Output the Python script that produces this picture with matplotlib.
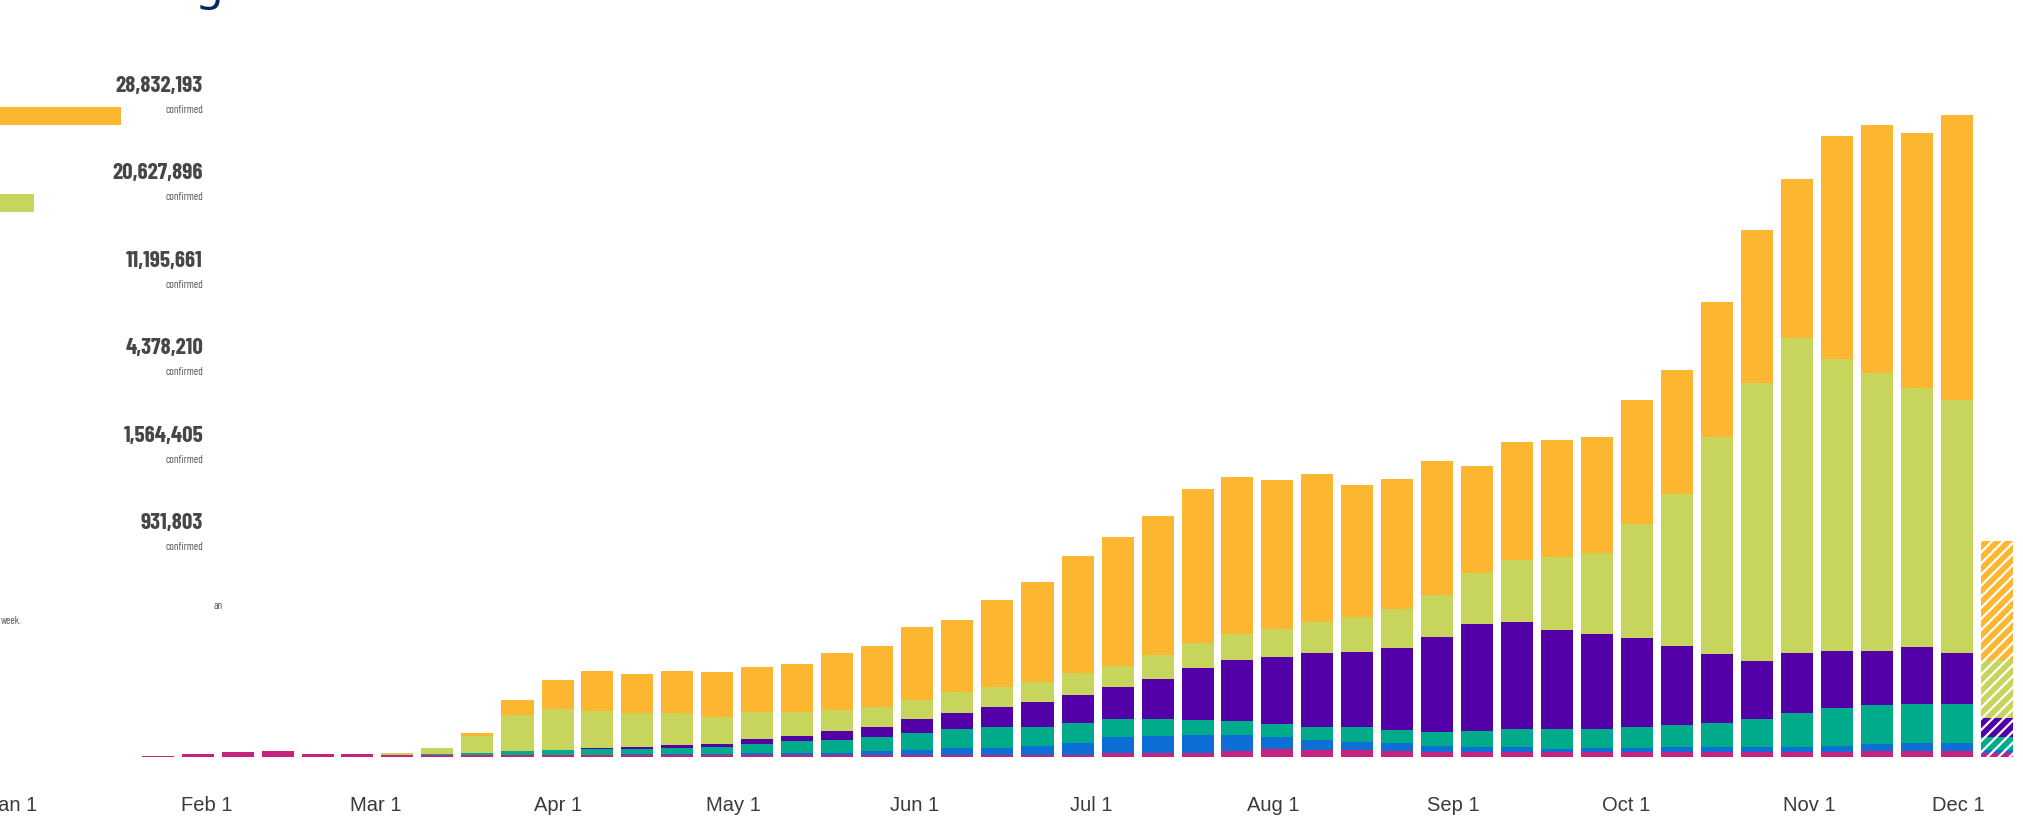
import os
import matplotlib
matplotlib.use("Agg")
import matplotlib.pyplot as plt
from matplotlib import font_manager as fm
from matplotlib.textpath import TextPath
import numpy as np

# ---------------- data (weekly confirmed cases, thousands) ----------------
week_index = np.arange(47)
western_pacific = [6, 15, 28, 36, 17, 15, 8, 8, 9, 9, 9, 9, 9, 9, 9, 9, 9, 9, 9, 9, 9, 9,
                   11, 11, 22, 22, 26, 36, 47, 43, 43, 38, 32, 32, 32, 28, 28, 28, 28, 28, 28,
                   32, 32, 38, 38, 38, 22]
africa = [0, 0, 0, 0, 0, 0, 0, 2, 3, 5, 5, 5, 6, 8, 10, 15, 13, 17, 28, 34, 45, 49,
          60, 75, 102, 113, 113, 102, 81, 64, 53, 47, 38, 32, 32, 19, 26, 29, 36, 36, 36,
          32, 38, 43, 51, 51, 21]
eastern_med = [0, 0, 0, 0, 0, 0, 3, 10, 10, 22, 29, 33, 36, 37, 42, 56, 79, 81, 88, 111, 124, 134,
               122, 132, 117, 107, 96, 90, 79, 85, 96, 85, 90, 102, 111, 128, 124, 134, 139, 154, 177,
               214, 239, 250, 248, 248, 85]
se_asia = [0, 0, 0, 0, 0, 0, 0, 0, 0, 0, 0, 6, 13, 21, 21, 34, 34, 58, 68, 88, 104, 126,
           156, 177, 207, 254, 335, 390, 429, 470, 480, 527, 608, 683, 685, 636, 608, 566, 506, 440, 373,
           384, 367, 346, 367, 324, 118]
europe = [0, 0, 0, 0, 0, 0, 11, 36, 113, 230, 260, 241, 218, 207, 175, 173, 154, 134, 128, 122, 131, 128,
          132, 143, 132, 156, 160, 166, 181, 198, 220, 246, 268, 328, 399, 465, 515, 733, 973, 1386, 1777,
          2018, 1871, 1780, 1654, 1621, 373]
americas = [0, 0, 0, 0, 0, 0, 0, 0, 19, 96, 188, 254, 246, 267, 284, 290, 303, 363, 390, 465, 459, 557,
            638, 747, 826, 890, 984, 1005, 954, 952, 847, 834, 859, 684, 752, 751, 746, 792, 794, 867, 981,
            1018, 1428, 1587, 1634, 1824, 764]
partial_week = 46  # last (incomplete) week drawn hatched

region_names = ["Americas", "Europe", "South-East Asia", "Eastern Mediterranean", "Africa", "Western Pacific"]
region_totals = [28832193, 20627896, 11195661, 4378210, 1564405, 931803]

month_labels = ["Jan 1", "Feb 1", "Mar 1", "Apr 1", "May 1", "Jun 1",
                "Jul 1", "Aug 1", "Sep 1", "Oct 1", "Nov 1", "Dec 1"]
month_tick_pos = [-3.62, 1.24, 5.46, 10.01, 14.39, 18.93, 23.34, 27.89, 32.39, 36.71, 41.29, 45.69]

# ---------------- styling ----------------
C_ORANGE = "#FDB630"
C_GREEN = "#C8D55C"
C_PURPLE = "#5300A8"
C_TEAL = "#00AB8B"
C_BLUE = "#0D6ED6"
C_MAGENTA = "#C8227F"
region_colors = [C_ORANGE, C_GREEN, C_PURPLE, C_TEAL, C_BLUE, C_MAGENTA]

W, H, DPI = 2023, 818, 100
plt.rcParams["hatch.linewidth"] = 1.6

font_files = [f.fname for f in fm.fontManager.ttflist]


def first_file(patterns):
    for pat in patterns:
        for fn in font_files:
            if os.path.basename(fn).lower().startswith(pat):
                return fn
    return None


def ink(fp, s):
    e = TextPath((0, 0), s, size=100, prop=fp).get_extents()
    return e.width / 100.0, e.height / 100.0


# condensed bold face for the summary numbers, sized to the reference ink box
TARGET_W, TARGET_H = 73.0, 19.5
fn_b = first_file(["barlowcondensed-bold.", "sairaextracondensed-bold", "opensans-condbold",
                   "dejavusanscondensed-bold"])
fp_bold = fm.FontProperties(fname=fn_b) if fn_b else fm.FontProperties(family="Liberation Sans", weight="bold")
w_all, _ = ink(fp_bold, "28,832,193")
_, h_dig = ink(fp_bold, "28832193")
size_h = TARGET_H / (h_dig * DPI / 72.0)
size_w = TARGET_W / (w_all * DPI / 72.0)
size_bold = float(np.sqrt(size_h * size_w))

fn_r = first_file(["barlowcondensed-regular", "opensans-condlight", "dejavusanscondensed."])
fp_reg = fm.FontProperties(fname=fn_r) if fn_r else fm.FontProperties(family="Liberation Sans")
w_conf, _ = ink(fp_reg, "confirmed")
size_conf = 37.0 / (w_conf * DPI / 72.0)

fig = plt.figure(figsize=(W / DPI, H / DPI), dpi=DPI)
fig.patch.set_facecolor("white")

# ---------------- main stacked bar chart ----------------
base_px = 756.7
px_per_unit = 1 / 6.4  # pixels per thousand cases
ax = fig.add_axes([0, (H - base_px) / H, 1, base_px / H])
ax.set_xlim((0 - 157.5) / 40, (W - 157.5) / 40)
ax.set_ylim(0, base_px / px_per_unit)

stack = [western_pacific, africa, eastern_med, se_asia, europe, americas]
stack_colors = [C_MAGENTA, C_BLUE, C_TEAL, C_PURPLE, C_GREEN, C_ORANGE]
bottom = np.zeros(len(week_index))
full = week_index != partial_week
part = week_index == partial_week
for vals, col in zip(stack, stack_colors):
    v = np.array(vals, dtype=float)
    ax.bar(week_index[full], v[full], bottom=bottom[full], width=0.8, color=col, linewidth=0)
    ax.bar(week_index[part], v[part], bottom=bottom[part], width=0.8, color=col,
           edgecolor="white", hatch="///", linewidth=0)
    bottom += v

ax.set_xticks(month_tick_pos)
ax.set_xticklabels(month_labels, family="Liberation Sans", fontsize=14.5, color="#3a3a3a")
ax.tick_params(axis="x", length=0, pad=28)
ax.get_xticklabels()[-1].set_ha("right")
ax.set_yticks([])
for s in ax.spines.values():
    s.set_visible(False)
ax.patch.set_alpha(0)

# ---------------- left summary panel ----------------
axl = fig.add_axes([0, 0, 1, 1])
axl.patch.set_alpha(0)
axl.set_xlim(17.45e6, 17.45e6 + W / 10.6e-6)
axl.set_ylim(H, 0)
axl.axis("off")
row_num_y = [86 + 87.4 * k for k in range(len(region_totals))]
axl.barh([y + 30 for y in row_num_y], region_totals, height=18, left=0, color=region_colors)

for y, tot in zip(row_num_y, region_totals):
    fig.text(203 / W, 1 - y / H, f"{tot:,}", ha="right", va="center",
             fontproperties=fp_bold, fontsize=size_bold, color="#464646")
    fig.text(203 / W, 1 - (y + 24) / H, "confirmed", ha="right", va="center",
             fontproperties=fp_reg, fontsize=size_conf, color="#555555")

fig.text(22 / W, 1 - 621 / H, "week.", ha="right", va="center",
         fontproperties=fp_reg, fontsize=size_conf, color="#555555")
fig.text(214 / W, 1 - 606 / H, "an", ha="left", va="center",
         fontproperties=fp_reg, fontsize=size_conf, color="#555555")

# clipped title descender
fig.text(196 / W, 1 + 1 / H, "g", ha="left", va="baseline", family="Noto Sans",
         fontsize=32, color="#0B2265")

fig.savefig("out.png", dpi=DPI, facecolor="white")
